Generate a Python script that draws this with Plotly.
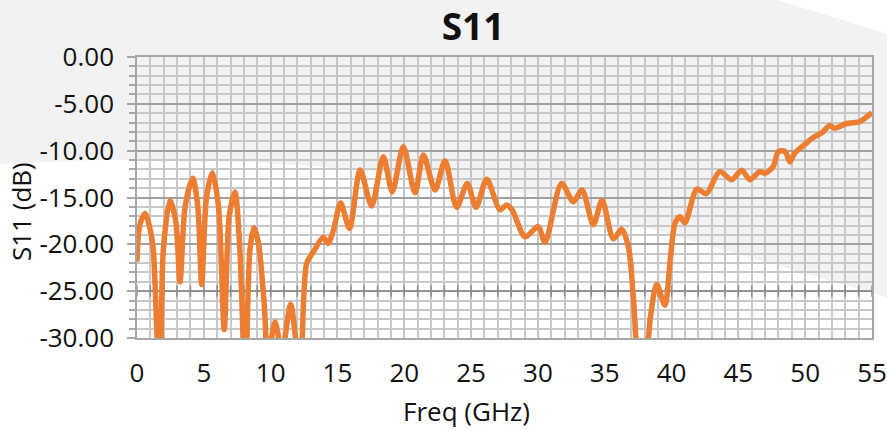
import plotly.graph_objects as go

# ---- data ----
freq_ghz = [0.0, 0.2, 0.6, 1.0, 1.22, 1.7, 1.97, 2.47, 2.9, 3.22, 3.6, 4.17, 4.55, 4.84,
            5.2, 5.64, 6.1, 6.53, 6.9, 7.33, 7.7, 8.1, 8.45, 8.75, 9.1, 9.5, 9.8, 10.33,
            10.85, 11.5, 12.2, 12.7, 13.2, 13.94, 14.3, 14.7, 15.24, 15.9, 16.7, 17.56,
            18.43, 19.1, 19.93, 20.8, 21.43, 22.3, 23.05, 23.92, 24.72, 25.37, 26.17,
            27.16, 27.66, 28.1, 29.03, 30.03, 30.53, 31.77, 32.65, 33.3, 34.15, 34.8,
            35.65, 36.27, 36.77, 37.14, 37.8, 38.4, 38.9, 39.5, 39.9, 40.26, 40.63, 41.0,
            41.9, 42.6, 43.6, 44.5, 45.25, 45.87, 46.6, 47.0, 47.6, 48.0, 48.5, 48.86,
            49.2, 50.0, 50.6, 51.2, 51.85, 52.2, 53.1, 54.1, 54.5, 55.0]
s11_db = [-21.85, -18.0, -16.7, -18.5, -20.6, -36.0, -20.6, -15.3, -17.5, -24.0, -16.0, -12.95,
          -16.0, -24.3, -15.0, -12.35, -16.0, -29.1, -17.0, -14.4, -20.6, -35.0, -20.6, -18.2,
          -20.0, -26.0, -32.0, -28.3, -31.5, -26.4, -34.0, -22.0, -20.8, -19.25, -19.9, -18.5,
          -15.6, -18.3, -12.06, -15.9, -10.64, -14.4, -9.57, -14.5, -10.46, -14.2, -11.07,
          -16.05, -13.5, -16.05, -13.06, -16.3, -15.8, -16.4, -19.2, -18.1, -19.8, -13.5,
          -15.45, -14.2, -17.9, -15.3, -19.4, -18.4, -20.25, -25.6, -40.0, -28.0, -24.3,
          -26.5, -21.7, -17.75, -17.05, -17.7, -14.1, -14.6, -12.24, -13.1, -12.1, -13.1,
          -12.24, -12.4, -11.7, -10.1, -10.1, -11.2, -10.3, -9.3, -8.6, -8.15, -7.3, -7.6,
          -7.1, -6.9, -6.5, -5.95]

x_tick_vals = [0, 5, 10, 15, 20, 25, 30, 35, 40, 45, 50, 55]
y_tick_vals = [0, -5, -10, -15, -20, -25, -30]
y_tick_text = ["0.00", "-5.00", "-10.00", "-15.00", "-20.00", "-25.00", "-30.00"]
x_minor_ticks = list(range(0, 56))
axis_cross_db = -25

# ---- layout geometry (pixels) ----
W, H = 887, 431
L, R, T, B = 137, 15, 57, 93
PW, PH = W - L - R, H - T - B


def px2paper(px, py):
    return (px - L) / PW, (H - B - py) / PH


bg_poly_px = [(-5, -5), (777, -5), (777, 0), (892, 35), (892, 299), (873, 293), (620, 220),
              (560, 201), (500, 189), (450, 181), (400, 174), (300, 165), (200, 160),
              (100, 160), (-5, 164)]
path = ""
for i, (px, py) in enumerate(bg_poly_px):
    xp, yp = px2paper(px, py)
    path += ("M" if i == 0 else "L") + f"{xp:.4f},{yp:.4f} "
path += "Z"

font_family = "Open Sans, Noto Sans, sans-serif"

fig = go.Figure()

# horizontal axis line crossing at -25 dB with crossing tick marks
fig.add_trace(go.Scatter(
    x=x_minor_ticks, y=[axis_cross_db] * len(x_minor_ticks),
    mode="lines+markers",
    line=dict(color="#8c8c8c", width=1.5),
    marker=dict(symbol="line-ns", size=8, line=dict(color="#8c8c8c", width=1.5)),
    hoverinfo="skip", showlegend=False,
))

fig.add_trace(go.Scatter(
    x=freq_ghz, y=s11_db, mode="lines",
    line=dict(color="#ED7D31", width=5.5, shape="spline", smoothing=0.8),
    showlegend=False,
))

fig.update_layout(
    width=W, height=H,
    margin=dict(l=L, r=R, t=T, b=B, autoexpand=False),
    paper_bgcolor="white",
    plot_bgcolor="rgba(0,0,0,0)",
    font=dict(family=font_family, color="#111111", size=24),
    title=dict(text="<b>S11</b>", x=473 / W, xref="container", xanchor="center",
               y=1 - 27 / H, yref="container", yanchor="middle",
               font=dict(size=37, family=font_family, color="#111111")),
    shapes=[dict(type="path", path=path, xref="paper", yref="paper",
                 fillcolor="#F2F2F2", line=dict(width=0), layer="below")],
    annotations=[
        dict(text="Freq (GHz)", x=(466 - L) / PW, y=(H - B - 411) / PH, xref="paper", yref="paper",
             showarrow=False, xanchor="center", yanchor="middle", font=dict(size=26)),
        dict(text="S11 (dB)", x=(21 - L) / PW, y=(H - B - 212) / PH, xref="paper", yref="paper",
             showarrow=False, xanchor="center", yanchor="middle", textangle=-90,
             font=dict(size=26)),
    ],
)

fig.update_xaxes(
    range=[0, 55], tickvals=x_tick_vals, ticks="", showgrid=True,
    gridcolor="#c4c4c4", gridwidth=1.5, zeroline=False,
    showline=True, linecolor="#a6a6a6", linewidth=1.5, mirror=True,
    minor=dict(dtick=1, showgrid=True, gridcolor="#c8c8c8", gridwidth=1.5),
    ticklabelstandoff=11, tickfont=dict(size=26),
)
fig.update_yaxes(
    range=[-30, 0], tickvals=y_tick_vals, ticktext=y_tick_text,
    ticks="outside", ticklen=8, tickcolor="#a6a6a6", tickwidth=1.5,
    showgrid=True, gridcolor="#a0a0a0", gridwidth=1.5, zeroline=False,
    showline=True, linecolor="#a6a6a6", linewidth=1.5, mirror=True,
    minor=dict(dtick=1, tick0=0, showgrid=True, gridcolor="#c8c8c8", gridwidth=1.5,
               ticks="outside", ticklen=6, tickcolor="#a6a6a6", tickwidth=1.5),
    ticklabelstandoff=8, tickfont=dict(size=26),
)

fig.write_html("out.html", config={"displayModeBar": False},
               post_script="document.body.style.margin='0';document.body.style.overflow='hidden';")
